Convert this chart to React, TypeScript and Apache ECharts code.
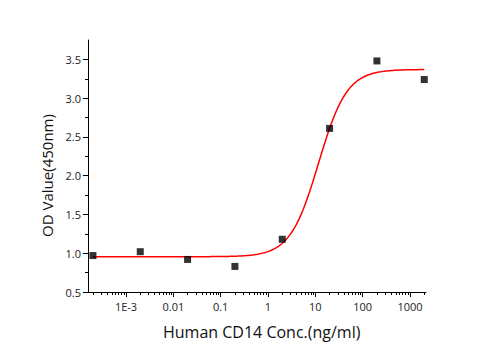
import React, { useEffect, useRef } from "react";
import * as echarts from "echarts";

const concentrations = [0.0002, 0.002, 0.02, 0.2, 2, 20, 200, 2000];
const odValues = [0.97, 1.02, 0.92, 0.83, 1.18, 2.61, 3.48, 3.24];
const xMajorTicks = [0.001, 0.01, 0.1, 1, 10, 100, 1000];
const xTickLabels = ["1E-3", "0.01", "0.1", "1", "10", "100", "1000"];
const yTicks = [0.5, 1.0, 1.5, 2.0, 2.5, 3.0, 3.5];
const xTitle = "Human CD14 Conc.(ng/ml)";
const yTitle = "OD Value(450nm)";
// 4-parameter logistic fit parameters
const fitBottom = 0.955;
const fitTop = 3.37;
const fitEC50 = 11.7;
const fitHill = 1.45;

const X_MIN = Math.pow(10, -3.803);
const X_MAX = Math.pow(10, 3.338);

function buildMinorTicks(): number[] {
  const out: number[] = [];
  for (let e = -4; e <= 3; e++) {
    for (let k = 2; k <= 9; k++) {
      const v = k * Math.pow(10, e);
      if (v > X_MIN && v < X_MAX) out.push(v);
    }
  }
  return out;
}

function buildCurve(): number[][] {
  const pts: number[][] = [];
  const lo = Math.log10(concentrations[0]);
  const hi = Math.log10(concentrations[concentrations.length - 1]);
  const n = 300;
  for (let i = 0; i <= n; i++) {
    const lx = lo + ((hi - lo) * i) / n;
    const x = Math.pow(10, lx);
    const y = fitBottom + (fitTop - fitBottom) / (1 + Math.pow(x / fitEC50, -fitHill));
    pts.push([x, y]);
  }
  return pts;
}

export default function App() {
  const ref = useRef<HTMLDivElement>(null);
  useEffect(() => {
    if (!ref.current) return;
    const chart = echarts.init(ref.current, undefined, { renderer: "svg" });
    const tickFont = { fontFamily: "Open Sans", fontSize: 11, color: "#222" };
    chart.setOption({
      animation: false,
      backgroundColor: "#fff",
      grid: { left: 88, right: 69, top: 40, bottom: 58, containLabel: false },
      graphic: [
        {
          type: "text",
          x: 261.7,
          y: 332,
          style: {
            text: xTitle,
            fontFamily: "Open Sans",
            fontSize: 16,
            fill: "#111",
            align: "center",
            verticalAlign: "middle",
          },
        },
        {
          type: "text",
          x: 46.7,
          y: 175.5,
          rotation: Math.PI / 2,
          style: {
            text: yTitle,
            fontFamily: "Open Sans",
            fontSize: 15,
            fill: "#111",
            align: "center",
            verticalAlign: "middle",
          },
        },
      ],
      xAxis: [
        {
          type: "log",
          min: X_MIN,
          max: X_MAX,
          position: "bottom",
          axisLine: { show: true, onZero: false, lineStyle: { color: "#000", width: 1 } },
          axisTick: { show: true, length: 5, customValues: xMajorTicks, lineStyle: { color: "#000" } },
          axisLabel: {
            ...tickFont,
            margin: 9,
            customValues: xMajorTicks,
            formatter: (v: number) => {
              const idx = xMajorTicks.findIndex((t) => Math.abs(Math.log10(t) - Math.log10(v)) < 1e-6);
              return idx >= 0 ? xTickLabels[idx] : "";
            },
          },
          splitLine: { show: false },
        },
        {
          type: "log",
          min: X_MIN,
          max: X_MAX,
          position: "bottom",
          axisLine: { show: false },
          axisTick: { show: true, length: 3, customValues: buildMinorTicks(), lineStyle: { color: "#000" } },
          axisLabel: { show: false },
          splitLine: { show: false },
        },
      ],
      yAxis: {
        type: "value",
        min: 0.5,
        max: 3.75,
        interval: 0.5,
        axisLine: { show: true, lineStyle: { color: "#000", width: 1 } },
        axisTick: { show: true, length: 5, customValues: yTicks, lineStyle: { color: "#000" } },
        minorTick: { show: true, splitNumber: 2, length: 3, lineStyle: { color: "#000" } },
        axisLabel: {
          ...tickFont,
          margin: 7,
          customValues: yTicks,
          formatter: (v: number) => v.toFixed(1),
        },
        splitLine: { show: false },
      },
      series: [
        {
          type: "line",
          xAxisIndex: 0,
          data: buildCurve(),
          showSymbol: false,
          symbol: "none",
          smooth: false,
          lineStyle: { color: "#ff0000", width: 1.5 },
          z: 2,
        },
        {
          type: "scatter",
          xAxisIndex: 0,
          data: concentrations.map((c, i) => [c, odValues[i]]),
          symbol: "rect",
          symbolSize: 7,
          itemStyle: { color: "#000" },
          z: 3,
        },
      ],
    });
    return () => chart.dispose();
  }, []);
  return (
    <div
      ref={ref}
      style={{ position: "absolute", left: 0, top: 0, width: 495, height: 350, background: "#fff" }}
    />
  );
}
